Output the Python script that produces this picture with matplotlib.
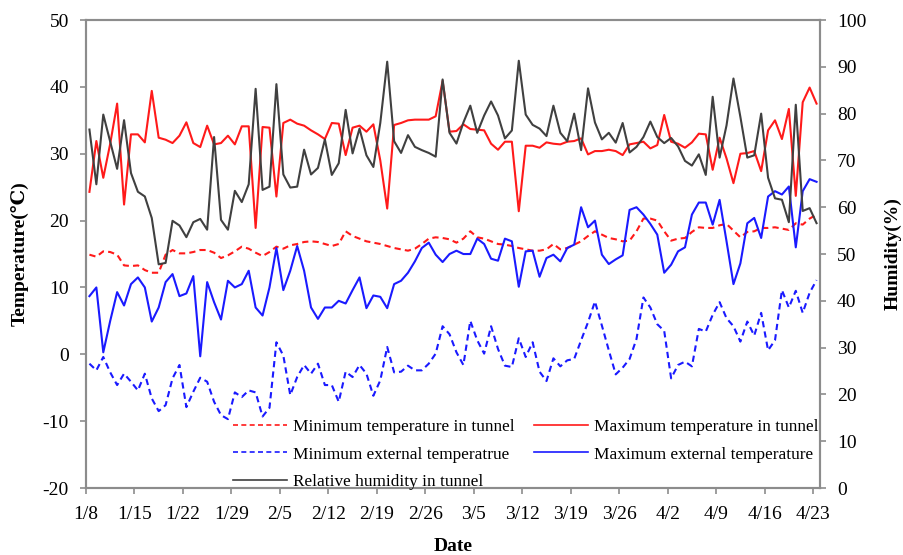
import numpy as np
import matplotlib
matplotlib.use('Agg')
import matplotlib.pyplot as plt

# daily values 1/8 .. 4/23
min_tunnel = [14.9, 14.6, 15.4, 15.3, 14.9, 13.3, 13.2, 13.3, 12.6, 12.2, 12.2, 14.9, 15.6, 15.1, 15.1, 15.3, 15.6, 15.6, 15.2, 14.4, 14.8, 15.4, 16.1, 15.8, 15.2, 14.7, 15.3,
              16.1, 15.8, 16.3, 16.5, 16.8, 16.9, 16.8, 16.5, 16.2, 16.5, 18.4, 17.7, 17.3, 16.9, 16.7, 16.5, 16.2, 15.9, 15.7, 15.5, 15.8, 16.5, 17.3, 17.5, 17.4, 17.2,
              16.7, 17.3, 18.4, 17.5, 17.3, 16.9, 16.5, 16.4, 16.2, 15.9, 15.7, 15.5, 15.5, 15.7, 16.5, 15.7, 15.9, 16.4, 16.9, 17.7, 18.4, 17.9, 17.4, 17.2, 16.9, 17.0,
              18.4, 20.3, 20.3, 20.0, 18.4, 17.0, 17.3, 17.4, 18.3, 19.0, 18.9, 18.9, 19.3, 19.5, 18.5, 17.5, 18.3, 18.4, 18.9, 18.9, 19.0, 18.8, 18.6, 19.6, 19.4, 20.3, 20.9]

max_tunnel = [24.3, 31.9, 26.4, 31.5, 37.5, 22.4, 32.9, 32.9, 31.7, 39.4, 32.4, 32.1, 31.6, 32.7, 34.7, 31.6, 31.0, 34.2, 31.4, 31.6, 32.7, 31.4, 34.1, 34.1, 18.9, 34.0, 33.9,
              23.6, 34.6, 35.1, 34.5, 34.2, 33.5, 32.9, 32.2, 34.6, 34.5, 29.8, 33.9, 34.2, 33.3, 34.4, 29.0, 21.8, 34.3, 34.6, 35.0, 35.1, 35.1, 35.1, 35.6, 40.9, 33.3,
              33.4, 34.4, 33.7, 33.6, 33.5, 31.5, 30.6, 31.8, 31.8, 21.4, 31.2, 31.2, 30.9, 31.7, 31.5, 31.4, 31.8, 31.9, 32.3, 29.9, 30.4, 30.4, 30.6, 30.4, 29.8, 31.4,
              31.6, 31.8, 30.8, 31.3, 35.8, 31.8, 31.5, 30.9, 31.7, 33.0, 32.9, 27.6, 32.4, 29.3, 25.6, 30.0, 30.1, 30.4, 27.4, 33.5, 35.0, 32.2, 36.7, 23.7, 37.7, 39.9, 37.5]

min_external = [-1.4, -2.4, -0.4, -2.7, -4.6, -2.9, -4.1, -5.4, -2.9, -6.6, -8.5, -7.6, -3.6, -1.6, -7.9, -5.6, -3.5, -4.1, -7.1, -9.1, -9.7, -5.7, -6.4, -5.4, -5.7, -9.3, -8.0,
                1.8, -0.2, -6.1, -3.4, -1.6, -2.9, -1.4, -4.6, -4.6, -7.1, -2.6, -3.4, -1.6, -2.9, -6.2, -3.9, 1.1, -2.7, -2.6, -1.7, -2.4, -2.4, -1.4, 0.1, 4.2, 3.0,
                0.3, -1.6, 5.0, 2.1, 0.1, 4.2, 0.8, -1.7, -1.9, 2.4, -0.4, 1.8, -2.6, -4.0, -0.6, -1.8, -0.9, -0.7, 2.1, 4.8, 7.9, 4.3, 0.6, -3.0, -2.0, -0.7,
                2.3, 8.5, 7.0, 4.5, 3.5, -3.6, -1.6, -1.1, -1.8, 3.8, 3.4, 5.9, 7.8, 5.4, 4.2, 1.9, 4.9, 2.8, 6.2, 0.6, 2.1, 9.6, 7.0, 9.5, 6.2, 9.2, 11.1]

max_external = [8.7, 10.0, 0.3, 5.0, 9.3, 7.3, 10.5, 11.5, 10.0, 4.9, 7.0, 10.8, 12.0, 8.7, 9.1, 11.7, -0.3, 10.8, 7.8, 5.2, 11.0, 10.0, 10.5, 12.5, 7.0, 5.8, 10.0,
                15.9, 9.6, 12.5, 16.2, 12.5, 7.0, 5.3, 7.0, 7.0, 8.0, 7.6, 9.6, 11.5, 6.9, 8.8, 8.6, 6.9, 10.5, 11.0, 12.2, 13.9, 15.9, 16.7, 14.9, 13.8, 15.0,
                15.5, 15.0, 15.0, 17.3, 16.5, 14.3, 14.0, 17.3, 16.9, 10.1, 15.4, 15.5, 11.6, 14.4, 14.9, 13.9, 15.9, 16.4, 22.0, 19.0, 20.0, 14.9, 13.5, 14.2, 14.8, 21.6,
                22.0, 20.9, 19.5, 17.9, 12.2, 13.4, 15.4, 16.0, 20.9, 22.7, 22.7, 19.4, 23.1, 16.9, 10.5, 13.6, 19.6, 20.4, 17.4, 23.6, 24.4, 23.9, 25.1, 16.0, 24.4, 26.2, 25.8]

humidity = [76.6, 64.9, 79.8, 74.0, 68.2, 78.6, 67.3, 63.3, 62.3, 57.7, 47.8, 48.1, 57.1, 56.1, 53.6, 56.8, 57.5, 55.2, 75.0, 57.3, 55.2, 63.5, 61.1, 64.9, 85.3, 63.7, 64.4,
            86.3, 67.0, 64.2, 64.4, 72.3, 67.0, 68.4, 74.5, 66.9, 69.4, 80.8, 71.5, 76.8, 71.1, 68.6, 78.0, 91.1, 74.1, 71.6, 75.4, 72.9, 72.2, 71.6, 70.8, 87.3, 75.9,
            73.6, 78.1, 81.7, 75.9, 79.6, 82.6, 79.6, 74.7, 76.4, 91.3, 79.8, 77.6, 76.8, 75.2, 81.7, 75.9, 74.1, 80.0, 72.2, 85.4, 78.1, 74.5, 75.9, 73.8, 78.0, 71.7,
            72.9, 75.0, 78.3, 75.0, 73.7, 74.8, 73.0, 69.9, 68.9, 71.3, 66.9, 83.6, 70.6, 77.5, 87.5, 79.3, 70.6, 71.1, 80.0, 66.3, 61.9, 61.6, 56.8, 81.9, 59.2, 59.8, 56.6]

tick_labels = ['1/8', '1/15', '1/22', '1/29', '2/5', '2/12', '2/19', '2/26',
               '3/5', '3/12', '3/19', '3/26', '4/2', '4/9', '4/16', '4/23']

plt.rcParams['font.family'] = ['Liberation Serif', 'DejaVu Serif']
plt.rcParams['axes.unicode_minus'] = False

fig = plt.figure(figsize=(9.04, 5.55), dpi=100)
ax = fig.add_axes([0.0951, 0.1207, 0.812, 0.8432])
ax2 = ax.twinx()

# points sit between the day ticks, like the original
days = np.arange(len(max_tunnel)) + 0.5
dash = (3, 2)

l1, = ax.plot(days, min_tunnel, color='#ff1a1a', lw=1.5, dashes=dash, label='Minimum temperature in tunnel')
l2, = ax.plot(days, max_tunnel, color='#ff1a1a', lw=1.5, label='Maximum temperature in tunnel')
l3, = ax.plot(days, min_external, color='#1a1aff', lw=1.5, dashes=dash, label='Minimum external temperatrue')
l4, = ax.plot(days, max_external, color='#1a1aff', lw=1.5, label='Maximum external temperature')
l5, = ax2.plot(days, humidity, color='#404040', lw=1.5, label='Relative humidity in tunnel')

ax.set_xlim(0, len(max_tunnel))
ax.set_ylim(-20, 50)
ax.set_yticks(np.arange(-20, 51, 10))
ax2.set_ylim(0, 100)
ax2.set_yticks(np.arange(0, 101, 10))
ax.set_xticks(np.arange(0, len(max_tunnel), 7))
ax.set_xticklabels(tick_labels)

for a in (ax, ax2):
    for s in a.spines.values():
        s.set_color('#8c8c8c')
        s.set_linewidth(1.5)
    a.tick_params(direction='out', length=4.3, width=1.2, color='#8c8c8c', labelsize=14, pad=8)
ax.tick_params(axis='x', pad=9)

ax.set_ylabel('Temperature(℃)', fontsize=14, fontweight='bold')
ax.yaxis.set_label_coords(-0.078, 0.5)
ax2.set_ylabel('Humidity(%)', fontsize=14, fontweight='bold')
ax2.yaxis.set_label_coords(1.088, 0.5)
ax.set_xlabel('Date', fontsize=14, fontweight='bold')
ax.xaxis.set_label_coords(0.5, -0.106)

handles = [l1, l3, l5, l2, l4]
leg = ax2.legend(handles, [h.get_label() for h in handles], ncol=2, frameon=False,
                 loc='upper left', bbox_to_anchor=(0.2003, 0.147), borderaxespad=0, borderpad=0,
                 fontsize=12.4, handlelength=3.15, handletextpad=0.35, columnspacing=1.1, labelspacing=0.65)
for ln in leg.get_lines():
    ln.set_linewidth(1.2)

fig.savefig('out.png', dpi=100)
